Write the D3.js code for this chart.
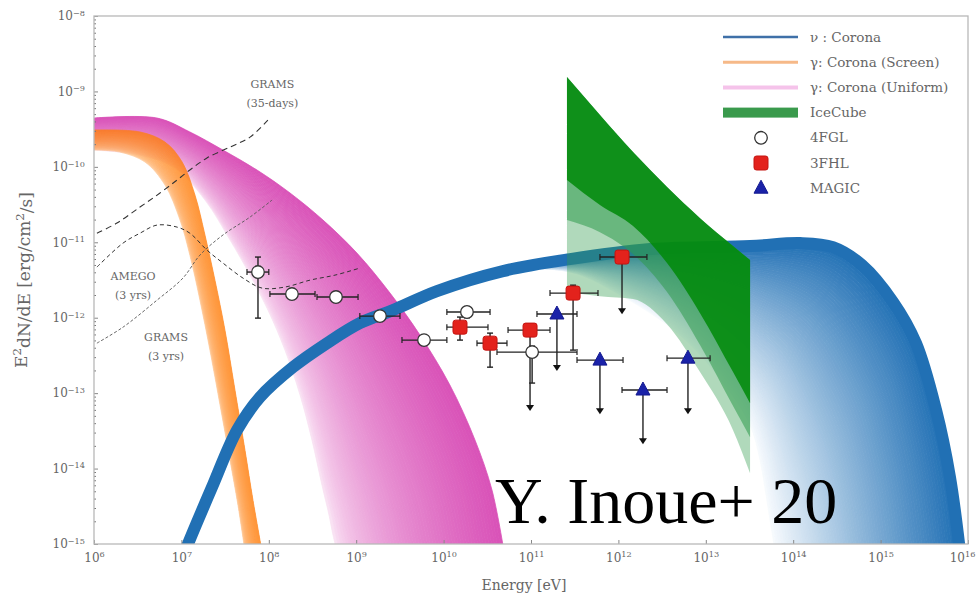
<!DOCTYPE html>
<html>
<head>
<meta charset="utf-8">
<script src="https://cdn.jsdelivr.net/npm/d3@7"></script>
<style>
  body { margin: 0; background: #fff; }
</style>
</head>
<body>
<svg id="chart" width="978" height="598"></svg>
<script>
// ---------------- data ----------------
const xDecades = [1e6, 1e7, 1e8, 1e9, 1e10, 1e11, 1e12, 1e13, 1e14, 1e15, 1e16];
const yDecades = [1e-15, 1e-14, 1e-13, 1e-12, 1e-11, 1e-10, 1e-9, 1e-8];

// gamma-ray corona model, uniform case: outer and inner edge of the model band [E (eV), E^2 dN/dE]
const gammaUniformOuter = [[1e6,4.44e-10],[5.26e6,4.44e-10],[1.25e7,2.90e-10],[2.99e7,1.67e-10],[7.33e7,9.08e-11],[1.75e8,4.50e-11],[4.17e8,1.97e-11],[1.02e9,7.19e-12],[2.44e9,2.12e-12],[5.37e9,5.88e-13],[1.18e10,1.28e-13],[2.29e10,2.38e-14],[3.58e10,5.18e-15],[4.91e10,8e-16]];
const gammaUniformInner = [[1e6,1.67e-10],[3.36e6,1.43e-10],[8.45e6,9.64e-11],[1.86e7,3.63e-11],[3.60e7,1.07e-11],[6.10e7,3.67e-12],[9.79e7,1.26e-12],[1.53e8,3.72e-13],[2.28e8,9.4e-14],[3.12e8,2.38e-14],[4.06e8,6.03e-15],[4.89e8,2.41e-15],[5.43e8,1.31e-15],[6.03e8,8e-16]];

// gamma-ray corona model, screen case
const gammaScreenOuter = [[1e6,3.08e-10],[3.36e6,2.90e-10],[6.49e6,2.13e-10],[1.02e7,1.16e-10],[1.43e7,4.23e-11],[1.86e7,1.25e-11],[2.42e7,3.15e-12],[3.15e7,6.85e-13],[4.10e7,1.10e-13],[5.34e7,1.75e-14],[6.59e7,3.81e-15],[8.36e7,8e-16]];
const gammaScreenInner = [[1e6,1.67e-10],[1.98e6,1.57e-10],[3.83e6,1.16e-10],[6.49e6,5.74e-11],[9.64e6,1.97e-11],[1.25e7,6.76e-12],[1.63e7,1.71e-12],[2.12e7,3.72e-13],[2.77e7,6.93e-14],[3.60e7,1.29e-14],[4.44e7,3.27e-15],[5.34e7,8e-16]];

// neutrino corona model (outer edge is also the centre of the thick line)
const nuOuter = [[9.15e6,4.5e-16],[1.19e7,1e-15],[2.24e7,5.66e-15],[4.33e7,3.23e-14],[7.93e7,8.85e-14],[1.89e8,2.21e-13],[4.63e8,4.60e-13],[1.10e9,8.48e-13],[2.64e9,1.26e-12],[8.40e9,2.25e-12],[4.78e10,4.15e-12],[2.79e11,5.98e-12],[2.30e12,8.13e-12],[3.21e13,8.91e-12],[1.20e14,9.76e-12],[2.85e14,8.63e-12],[6.12e14,4.99e-12],[1.39e15,1.61e-12],[2.54e15,4.60e-13],[4.31e15,5.96e-14],[6.22e15,7.69e-15],[8.09e15,8e-16]];
const nuInner = [[9.15e6,4.5e-16],[1.19e7,1e-15],[2.24e7,5.66e-15],[4.33e7,3.23e-14],[7.93e7,8.85e-14],[1.89e8,2.21e-13],[4.63e8,4.60e-13],[1.10e9,8.48e-13],[2.64e9,1.26e-12],[8.40e9,2.25e-12],[4.78e10,4.15e-12],[2.79e11,4.03e-12],[9.14e11,2.19e-12],[5.07e12,5.88e-13],[1.66e13,1.28e-13],[3.21e13,3.77e-14],[4.17e13,1.29e-14],[4.89e13,4.44e-15],[5.43e13,2.07e-15],[5.87e13,1.19e-15],[6.19e13,8e-16],[6.53e13,4.5e-16]];

// IceCube bow-tie: shared upper edge and three lower edges
const iceE        = [2.58e11, 6.15e11, 1.47e12, 3.60e12, 8.59e12, 2.05e13, 3.21e13];
const iceTop      = [1.55e-9, 4.86e-10, 1.57e-10, 5.40e-11, 2.09e-11, 8.91e-12, 5.81e-12];
const iceDarkLow  = [6.68e-11, 3.11e-11, 1.64e-11, 5.30e-12, 1.15e-12, 1.90e-13, 7.36e-14];
const iceMidLow   = [1.97e-11, 1.36e-11, 6.98e-12, 2.19e-12, 4.34e-13, 6.73e-14, 2.61e-14];
const iceLightLow = [2.19e-12, 1.93e-12, 1.77e-12, 8.22e-13, 1.90e-13, 3.23e-14, 8.69e-15];

// sensitivity curves
const gramsBalloon = [[1.08e6,1.32e-11],[1.83e6,1.80e-11],[3.36e6,2.93e-11],[5.69e6,4.50e-11],[8.91e6,6.68e-11],[1.25e7,9.08e-11],[1.96e7,1.31e-10],[3.60e7,1.83e-10],[6.10e7,2.48e-10],[1.03e8,4.44e-10]];
const amego = [[1.08e6,4.69e-12],[2.15e6,9.76e-12],[3.36e6,1.32e-11],[5.26e6,1.69e-11],[8.91e6,1.59e-11],[1.25e7,1.32e-11],[1.96e7,7.88e-12],[2.99e7,5.30e-12],[5.07e7,3.35e-12],[8.36e7,2.47e-12],[1.53e8,2.55e-12],[2.96e8,3.15e-12],[5.72e8,3.67e-12],[1.10e9,4.55e-12]];
const gramsSatellite = [[1.08e6,4.60e-13],[2.15e6,7.50e-13],[5.26e6,1.71e-12],[1.04e7,3.35e-12],[1.63e7,6.76e-12],[2.99e7,1.25e-11],[6.10e7,2.16e-11],[1.09e8,3.63e-11]];

// measurements: [E, flux, E low, E high, flux low, flux high, upper limit]
const fgl4 = [
  [7.52e7, 4.03e-12, 5.63e7, 1.00e8, 9.88e-13, 6.37e-12, 0],
  [1.84e8, 2.06e-12, 1.03e8, 3.38e8, 1.77e-12, 2.39e-12, 0],
  [5.87e8, 1.88e-12, 3.56e8, 1.05e9, 1.60e-12, 2.20e-12, 0],
  [1.87e9, 1.05e-12, 1.10e9, 3.17e9, 0.90e-12, 1.20e-12, 0],
  [5.97e9, 5.05e-13, 3.34e9, 1.09e10, 4.40e-13, 5.80e-13, 0],
  [1.85e10, 1.19e-12, 1.09e10, 3.40e10, 1.00e-12, 1.40e-12, 0],
  [1.03e11, 3.50e-13, 4.08e10, 3.36e11, 1.36e-13, 4.20e-13, 0]
];
const fhl3 = [
  [1.54e10, 7.50e-13, 1.09e10, 3.22e10, 5.05e-13, 1.02e-12, 0],
  [3.40e10, 4.60e-13, 2.41e10, 5.31e10, 2.21e-13, 6.25e-13, 0],
  [9.75e10, 6.85e-13, 5.46e10, 1.65e11, 5.96e-14, null, 1],
  [3.03e11, 2.12e-12, 1.65e11, 5.84e11, 3.72e-13, 2.70e-12, 0],
  [1.10e12, 6.37e-12, 6.15e11, 2.12e12, 1.15e-12, null, 1]
];
const magic = [
  [1.98e11, 1.12e-12, 1.17e11, 3.36e11, 2.02e-13, null, 1],
  [6.15e11, 2.74e-13, 3.36e11, 1.13e12, 5.43e-14, null, 1],
  [1.91e12, 1.10e-13, 1.10e12, 3.60e12, 2.17e-14, null, 1],
  [6.25e12, 2.91e-13, 3.60e12, 1.12e13, 5.43e-14, null, 1]
];

const legendLabels = ["\u03BD : Corona", "\u03B3: Corona (Screen)", "\u03B3: Corona (Uniform)", "IceCube", "4FGL", "3FHL", "MAGIC"];

// ---------------- layout ----------------
const SERIF = "DejaVu Serif, serif";
const svg = d3.select("#chart");
const pL = 94, pR = 968, pT = 16, pB = 544;
const x = d3.scaleLog().domain([1e6, 1e16]).range([pL, pR]);
const y = d3.scaleLog().domain([1e-15, 1e-8]).range([pB, pT]);

svg.append("defs").append("clipPath").attr("id", "plotClip")
  .append("rect").attr("x", pL).attr("y", pT).attr("width", pR - pL).attr("height", pB - pT);

const plot = svg.append("g").attr("clip-path", "url(#plotClip)");

// shaded model band: nested curves between inner and outer edge, light to dark
function shadeBand(g, outer, inner, n, color) {
  const po = outer.map(d => [x(d[0]), y(d[1])]);
  const pi = inner.map(d => [x(d[0]), y(d[1])]);
  const at = t => po.map((p, i) => [pi[i][0] + (p[0] - pi[i][0]) * t, pi[i][1] + (p[1] - pi[i][1]) * t]);
  const line = d3.line().curve(d3.curveCatmullRom.alpha(0.5));
  for (let k = 0; k < n; k++) {
    const a = at(k / n), b = at((k + 1) / n).reverse();
    const c = color((k + 0.5) / n);
    g.append("path")
      .attr("d", line(a) + "L" + line(b).slice(1) + "Z")
      .attr("fill", c).attr("stroke", c).attr("stroke-width", 0.8);
  }
}

const pinkScale = d3.interpolateRgb("#fcedf8", "#d952b8");
shadeBand(plot.append("g"), gammaUniformOuter, gammaUniformInner, 60, t => pinkScale(Math.pow(t, 0.55)));

const orangeScale = d3.interpolateRgb("#ffe2c6", "#ff7f0e");
shadeBand(plot.append("g").attr("opacity", 0.82), gammaScreenOuter, gammaScreenInner, 30, t => orangeScale(Math.pow(t, 0.3)));

const blueScale = d3.interpolateRgb("#f8fbfe", "#2170b4");
const nuG = plot.append("g");
shadeBand(nuG, nuOuter, nuInner, 70, t => blueScale(Math.pow(t, 0.95)));
nuG.append("path")
  .attr("d", d3.line().x(d => x(d[0])).y(d => y(d[1])).curve(d3.curveCatmullRom.alpha(0.5))(nuOuter))
  .attr("fill", "none").attr("stroke", "#2170b4").attr("stroke-width", 12);

// IceCube bow-tie
const iceG = plot.append("g");
function iceArea(low) {
  return d3.area().x((d, i) => x(iceE[i])).y0((d, i) => y(low[i])).y1((d, i) => y(iceTop[i]))
    .curve(d3.curveMonotoneX)(iceE);
}
iceG.append("path").attr("d", iceArea(iceLightLow)).attr("fill", "#2f9a4c").attr("fill-opacity", 0.38);
iceG.append("path").attr("d", iceArea(iceMidLow)).attr("fill", "#2f9a4c").attr("fill-opacity", 0.55);
iceG.append("path").attr("d", iceArea(iceDarkLow)).attr("fill", "#008a08").attr("fill-opacity", 0.85);

// sensitivity curves
const sensLine = d3.line().x(d => x(d[0])).y(d => y(d[1])).curve(d3.curveCatmullRom.alpha(0.5));
plot.append("path").attr("d", sensLine(gramsBalloon)).attr("fill", "none")
  .attr("stroke", "#333").attr("stroke-width", 1.1).attr("stroke-dasharray", "6,4");
plot.append("path").attr("d", sensLine(amego)).attr("fill", "none")
  .attr("stroke", "#333").attr("stroke-width", 1).attr("stroke-dasharray", "4,3");
plot.append("path").attr("d", sensLine(gramsSatellite)).attr("fill", "none")
  .attr("stroke", "#555").attr("stroke-width", 0.9).attr("stroke-dasharray", "3,2");

const sensLabels = [
  { t: ["GRAMS", "(35-days)"], e: 1.1e8, f: 1.11e-9 },
  { t: ["AMEGO", "(3 yrs)"], e: 2.8e6, f: 3.15e-12 },
  { t: ["GRAMS", "(3 yrs)"], e: 6.67e6, f: 4.9e-13 }
];
sensLabels.forEach(l => {
  const tx = svg.append("text").attr("x", x(l.e)).attr("y", y(l.f)).style("font-family", SERIF)
    .attr("text-anchor", "middle").attr("font-size", 11).attr("fill", "#666");
  l.t.forEach((s, i) => tx.append("tspan").attr("x", x(l.e)).attr("dy", i ? 19 : 0).text(s));
});

// ---------------- axes ----------------
function expLabel(sel) {
  sel.each(function (d) {
    const e = Math.round(Math.log10(d));
    const t = d3.select(this).text(null);
    t.append("tspan").text("10");
    t.append("tspan").attr("dy", "-0.55em").attr("font-size", "0.68em")
      .text(String(e).replace("-", "\u2212"));
  });
}
const gx = svg.append("g").attr("transform", `translate(0,${pB})`)
  .call(d3.axisBottom(x).tickValues(xDecades).tickSizeInner(-4).tickSizeOuter(0).tickPadding(9).tickFormat(() => ""));
gx.select(".domain").remove();
gx.selectAll(".tick line").attr("stroke", "#888");
gx.selectAll(".tick text").attr("font-size", 12).attr("fill", "#666").style("font-family", SERIF).call(expLabel);
// keep the last label inside the canvas
gx.selectAll(".tick text").filter(d => d === 1e16).attr("x", -6);

const gy = svg.append("g").attr("transform", `translate(${pL},0)`)
  .call(d3.axisLeft(y).tickValues(yDecades).tickSizeInner(-4).tickSizeOuter(0).tickPadding(9).tickFormat(() => ""));
gy.select(".domain").remove();
gy.selectAll(".tick line").attr("stroke", "#888");
gy.selectAll(".tick text").attr("font-size", 12).attr("fill", "#666").style("font-family", SERIF).call(expLabel);

const minorY = [];
yDecades.slice(0, -1).forEach(d => { for (let m = 2; m < 10; m++) minorY.push(d * m); });
const gym = svg.append("g").attr("transform", `translate(${pL},0)`)
  .call(d3.axisLeft(y).tickValues(minorY).tickSizeInner(-2).tickSizeOuter(0).tickFormat(() => ""));
gym.select(".domain").remove();
gym.selectAll(".tick line").attr("stroke", "#777");

svg.append("rect").attr("x", pL).attr("y", pT).attr("width", pR - pL).attr("height", pB - pT)
  .attr("fill", "none").attr("stroke", "#b8b8b8").attr("stroke-width", 1.3);

svg.append("text").attr("x", (pL + pR) / 2 - 7).attr("y", 590).attr("text-anchor", "middle")
  .style("font-family", SERIF).attr("font-size", 14).attr("fill", "#666").text("Energy [eV]");

const yl = svg.append("text").attr("transform", "translate(27,280) rotate(-90)").style("font-family", SERIF)
  .attr("text-anchor", "middle").attr("font-size", 17).attr("fill", "#666");
yl.append("tspan").text("E");
yl.append("tspan").attr("dy", "-0.5em").attr("font-size", "0.7em").text("2");
yl.append("tspan").attr("dy", "0.5em").text("dN/dE [erg/cm");
yl.append("tspan").attr("dy", "-0.5em").attr("font-size", "0.7em").text("2");
yl.append("tspan").attr("dy", "0.5em").text("/s]");

// ---------------- measurements ----------------
const pts = svg.append("g");
function errorBars(data) {
  data.forEach(d => {
    const cx = x(d[0]), cy = y(d[1]);
    pts.append("line").attr("x1", x(d[2])).attr("x2", x(d[3])).attr("y1", cy).attr("y2", cy)
      .attr("stroke", "#222").attr("stroke-width", 1.4);
    [d[2], d[3]].forEach(e => pts.append("line").attr("x1", x(e)).attr("x2", x(e))
      .attr("y1", cy - 3).attr("y2", cy + 3).attr("stroke", "#222").attr("stroke-width", 1.2));
    if (d[6]) {
      const ye = y(d[4]);
      pts.append("line").attr("x1", cx).attr("x2", cx).attr("y1", cy).attr("y2", ye - 4)
        .attr("stroke", "#222").attr("stroke-width", 1.4);
      pts.append("path").attr("d", `M${cx - 4},${ye - 5}L${cx + 4},${ye - 5}L${cx},${ye + 1}Z`).attr("fill", "#111");
    } else {
      const y0 = y(d[4]), y1 = y(d[5]);
      pts.append("line").attr("x1", cx).attr("x2", cx).attr("y1", y1).attr("y2", y0)
        .attr("stroke", "#222").attr("stroke-width", 1.4);
      [y0, y1].forEach(v => pts.append("line").attr("x1", cx - 3).attr("x2", cx + 3)
        .attr("y1", v).attr("y2", v).attr("stroke", "#222").attr("stroke-width", 1.4));
    }
  });
}
errorBars(fgl4);
errorBars(fhl3);
errorBars(magic);

const circ = (g, cx, cy) => g.append("circle").attr("cx", cx).attr("cy", cy).attr("r", 6.3)
  .attr("fill", "#fff").attr("stroke", "#333").attr("stroke-width", 1.3);
const sq = (g, cx, cy) => g.append("rect").attr("x", cx - 7).attr("y", cy - 7).attr("width", 14).attr("height", 14)
  .attr("rx", 2.5).attr("fill", "#e3221c").attr("stroke", "#c41410").attr("stroke-width", 1);
const tri = (g, cx, cy) => g.append("path").attr("d", `M${cx},${cy - 8}L${cx + 7},${cy + 5}L${cx - 7},${cy + 5}Z`)
  .attr("fill", "#1a22a8").attr("stroke", "#141a90").attr("stroke-width", 1);

fgl4.forEach(d => circ(pts, x(d[0]), y(d[1])));
fhl3.forEach(d => sq(pts, x(d[0]), y(d[1])));
magic.forEach(d => tri(pts, x(d[0]), y(d[1])));

// ---------------- legend ----------------
const lg = svg.append("g");
const rowY = i => 37 + i * 25.2;
const lx0 = 723, lx1 = 798, lmid = 761, ltx = 810;
lg.append("line").attr("x1", lx0).attr("x2", lx1).attr("y1", rowY(0)).attr("y2", rowY(0)).attr("stroke", "#3f70a8").attr("stroke-width", 2.5);
lg.append("line").attr("x1", lx0).attr("x2", lx1).attr("y1", rowY(1)).attr("y2", rowY(1)).attr("stroke", "#f6b988").attr("stroke-width", 3);
lg.append("line").attr("x1", lx0).attr("x2", lx1).attr("y1", rowY(2)).attr("y2", rowY(2)).attr("stroke", "#f5c3ea").attr("stroke-width", 4);
lg.append("rect").attr("x", lx0).attr("y", rowY(3) - 5).attr("width", lx1 - lx0).attr("height", 10).attr("fill", "#3a9a4c");
circ(lg, lmid, rowY(4));
sq(lg, lmid, rowY(5));
tri(lg, lmid, rowY(6));
legendLabels.forEach((s, i) => lg.append("text").attr("x", ltx).attr("y", rowY(i) + 4.5)
  .style("font-family", SERIF).attr("font-size", 13.5).attr("fill", "#666").text(s));

// ---------------- citation ----------------
svg.append("text").attr("x", 495).attr("y", 523)
  .style("font-family", "'Liberation Serif', 'Times New Roman', serif").attr("font-size", 66).attr("fill", "#000")
  .text("Y. Inoue+ 20");
</script>
</body>
</html>
